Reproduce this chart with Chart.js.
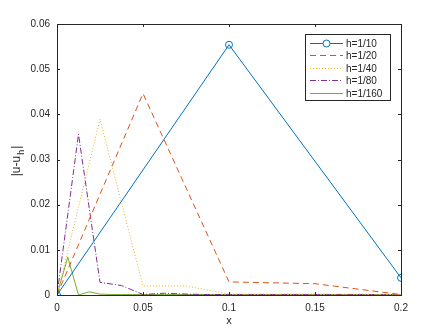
<!DOCTYPE html>
<html>
<head>
<meta charset="utf-8">
<style>
  html, body { margin: 0; padding: 0; background: #fff; }
  #wrap { width: 443px; height: 332px; }
</style>
<script src="https://cdn.jsdelivr.net/npm/chart.js@4.4.0/dist/chart.umd.min.js"></script>
</head>
<body>
<div id="wrap"><canvas id="myChart" width="443" height="332"></canvas></div>
<script>
// grid points for each mesh size
const x10 = [0, 0.1, 0.2];
const x20 = [0, 0.05, 0.1, 0.15, 0.2];
const x40 = [0, 0.025, 0.05, 0.075, 0.1, 0.125, 0.15, 0.175, 0.2];
const x80 = [0, 0.0125, 0.025, 0.0375, 0.05, 0.0625, 0.075, 0.0875, 0.1,
  0.1125, 0.125, 0.1375, 0.15, 0.1625, 0.175, 0.1875, 0.2];
const x160 = [0, 0.00625, 0.0125, 0.01875, 0.025, 0.03125, 0.0375, 0.04375, 0.05,
  0.05625, 0.0625, 0.06875, 0.075, 0.08125, 0.0875, 0.09375, 0.1,
  0.10625, 0.1125, 0.11875, 0.125, 0.13125, 0.1375, 0.14375, 0.15,
  0.15625, 0.1625, 0.16875, 0.175, 0.18125, 0.1875, 0.19375, 0.2];

// error |u - u_h|
const err10 = [0, 0.0554, 0.0038];
const err20 = [0, 0.0446, 0.0029, 0.0025, 0.0001];
const err40 = [0, 0.0389, 0.0020, 0.0020, 0.0002, 0.0002, 0.0002, 0.0002, 0.0001];
const err80 = [0, 0.0356, 0.0028, 0.0021, 0.0001, 0.0004, 0.0002, 0.0001, 0.0001,
  0.0001, 0.0001, 0.0001, 0.0001, 0.0001, 0.0001, 0.0001, 0];
const err160 = [0, 0.0084, 0, 0.0007, 0.0002, 0.0001, 0.0001, 0.0001, 0.0001,
  0.0001, 0.0001, 0.0001, 0.0001, 0.0001, 0.0001, 0.0001, 0.0001,
  0.0001, 0.0001, 0.0001, 0.0001, 0.0001, 0.0001, 0.0001, 0.0001,
  0.0001, 0.0001, 0.0001, 0.0001, 0.0001, 0.0001, 0.0001, 0];

const seriesLabels = ['h=1/10', 'h=1/20', 'h=1/40', 'h=1/80', 'h=1/160'];
const xTicks = [0, 0.05, 0.1, 0.15, 0.2];
const yTicks = [0, 0.01, 0.02, 0.03, 0.04, 0.05, 0.06];

const FONT = '"Liberation Sans", Arial, Helvetica, sans-serif';
const AXIS = '#262626';

function pts(xs, ys) {
  return xs.map((x, i) => ({ x: x, y: ys[i] }));
}

// axes box, inward ticks, legend, y title
const boxPlugin = {
  id: 'boxPlugin',
  afterDraw(chart) {
    const ctx = chart.ctx;
    const a = chart.chartArea;
    const sx = chart.scales.x, sy = chart.scales.y;
    ctx.save();
    ctx.strokeStyle = AXIS;
    ctx.lineWidth = 1;
    ctx.strokeRect(Math.round(a.left) + 0.5, Math.round(a.top) + 0.5,
      Math.round(a.right - a.left), Math.round(a.bottom - a.top));
    ctx.beginPath();
    xTicks.forEach(v => {
      const px = Math.round(sx.getPixelForValue(v)) + 0.5;
      ctx.moveTo(px, a.bottom); ctx.lineTo(px, a.bottom - 3);
      ctx.moveTo(px, a.top); ctx.lineTo(px, a.top + 3);
    });
    yTicks.forEach(v => {
      const py = Math.round(sy.getPixelForValue(v)) + 0.5;
      ctx.moveTo(a.left, py); ctx.lineTo(a.left + 3, py);
      ctx.moveTo(a.right, py); ctx.lineTo(a.right - 3, py);
    });
    ctx.stroke();

    // x label
    ctx.fillStyle = AXIS;
    ctx.font = '11px ' + FONT;
    ctx.textAlign = 'center';
    ctx.textBaseline = 'middle';
    ctx.fillText('x', (a.left + a.right) / 2, 321);

    // y label |u-u_h|
    ctx.translate(17, 161);
    ctx.rotate(-Math.PI / 2);
    ctx.textAlign = 'left';
    const main = '|u-u', sub = 'h', end = '|';
    ctx.font = '12px ' + FONT;
    const w1 = ctx.measureText(main).width;
    const w3 = ctx.measureText(end).width;
    ctx.font = '9px ' + FONT;
    const w2 = ctx.measureText(sub).width;
    let x0 = -(w1 + w2 + w3 + 2) / 2;
    ctx.font = '12px ' + FONT;
    ctx.fillText(main, x0, 0);
    ctx.font = '9px ' + FONT;
    ctx.fillText(sub, x0 + w1 + 1, 5);
    ctx.font = '12px ' + FONT;
    ctx.fillText(end, x0 + w1 + w2 + 2, 0);
    ctx.restore();

    // legend
    const lx = a.right - 96, ly = a.top + 10, lw = 85, lh = 66;
    ctx.save();
    ctx.fillStyle = '#fff';
    ctx.fillRect(lx, ly, lw, lh);
    ctx.strokeStyle = AXIS;
    ctx.lineWidth = 1;
    ctx.strokeRect(Math.round(lx) + 0.5, Math.round(ly) + 0.5, lw, lh);
    chart.data.datasets.forEach((ds, i) => {
      const yy = Math.round(ly + 9 + i * 12.4) + 0.5;
      ctx.strokeStyle = ds.borderColor;
      ctx.lineWidth = ds.borderWidth;
      ctx.setLineDash(ds.borderDash || []);
      ctx.beginPath();
      ctx.moveTo(lx + 5, yy); ctx.lineTo(lx + 38, yy);
      ctx.stroke();
      ctx.setLineDash([]);
      if (ds.pointRadius > 0) {
        ctx.beginPath();
        ctx.arc(lx + 21.5, yy, ds.pointRadius, 0, Math.PI * 2);
        ctx.fillStyle = '#fff';
        ctx.fill();
        ctx.stroke();
      }
      ctx.fillStyle = AXIS;
      ctx.font = '10px ' + FONT;
      ctx.textAlign = 'left';
      ctx.textBaseline = 'middle';
      ctx.fillText(ds.label, lx + 41, yy + 0.5);
    });
    ctx.restore();
  }
};

const ctx = document.getElementById('myChart');
new Chart(ctx, {
  type: 'line',
  data: {
    datasets: [
      { label: seriesLabels[0], data: pts(x10, err10), borderColor: '#0072BD',
        borderWidth: 1, pointRadius: 3.5, pointBorderWidth: 1,
        pointBackgroundColor: 'rgba(255,255,255,0)', pointBorderColor: '#0072BD' },
      { label: seriesLabels[1], data: pts(x20, err20), borderColor: '#D95319',
        borderWidth: 1, borderDash: [6, 4], pointRadius: 0 },
      { label: seriesLabels[2], data: pts(x40, err40), borderColor: '#EDB120',
        borderWidth: 1, borderDash: [1, 2], pointRadius: 0 },
      { label: seriesLabels[3], data: pts(x80, err80), borderColor: '#7E2F8E',
        borderWidth: 1, borderDash: [6, 2, 1, 2], pointRadius: 0 },
      { label: seriesLabels[4], data: pts(x160, err160), borderColor: '#77AC30',
        borderWidth: 1, pointRadius: 0 },
    ],
  },
  plugins: [boxPlugin],
  options: {
    responsive: false,
    animation: false,
    layout: { padding: { top: 24, right: 42, left: 0, bottom: 0 } },
    plugins: { legend: { display: false }, tooltip: { enabled: false } },
    elements: { line: { tension: 0, fill: false } },
    scales: {
      x: {
        type: 'linear', min: 0, max: 0.2,
        grid: { display: false, drawTicks: false },
        border: { display: false },
        afterBuildTicks: s => { s.ticks = xTicks.map(v => ({ value: v })); },
        afterFit: s => { s.height = 37; },
        ticks: { color: AXIS, padding: 7, maxRotation: 0,
          font: { family: FONT, size: 10 },
          callback: v => String(v) },
      },
      y: {
        type: 'linear', min: 0, max: 0.06,
        grid: { display: false, drawTicks: false },
        border: { display: false },
        afterBuildTicks: s => { s.ticks = yTicks.map(v => ({ value: v })); },
        afterFit: s => { s.width = 57; },
        ticks: { color: AXIS, padding: 7,
          font: { family: FONT, size: 10 },
          callback: v => String(v) },
      },
    },
  },
});
</script>
</body>
</html>
